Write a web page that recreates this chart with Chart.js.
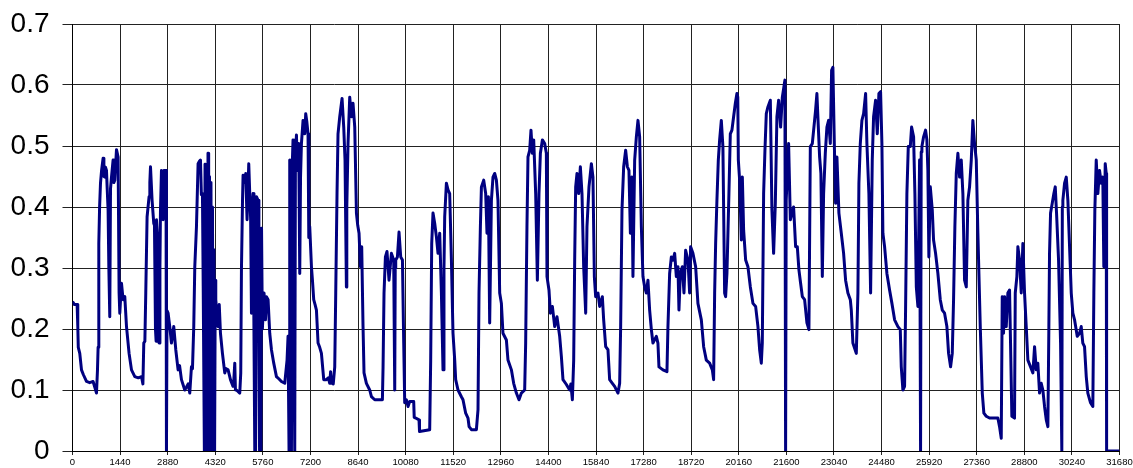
<!DOCTYPE html>
<html>
<head>
<meta charset="utf-8">
<script src="https://cdn.jsdelivr.net/npm/chart.js@4"></script>
<style>
html,body{margin:0;padding:0;background:#fff;}
#wrap{width:1133px;height:468px;}
</style>
</head>
<body>
<div id="wrap"><canvas id="c" width="1133" height="468"></canvas></div>
<script>
// time in minutes
const minutes = [
0,60,140,160,175,220,272,330,423,520,623,700,726,756,775,796,820,847,880,926,950,977,1000,1028,1050,1077,1100,1128,1150,1180,1228,1250,1280,1331,1380,1410,1431,1482,1531,1582,1634,1712,1785,1885,1990,2087,2130,2157,2190,2217,2257,2317,2340,2360,2408,2459,2480,2511,2530,2541,2590,2620,2645,2662,2692,2741,2770,2810,2830,2843,2860,2893,2943,2994,3064,3125,3195,3240,3297,3397,3450,3500,3548,3599,3630,3669,3700,3751,3800,3840,3872,3900,3932,3955,
3990,4010,4030,4055,4075,4100,4120,4145,4165,4190,4210,4235,4255,4280,4300,4320,4335,4405,4440,4477,4537,4607,4650,4708,4780,4858,4880,4910,4930,4961,5061,5091,5112,5143,5161,5200,5242,5282,5333,5363,5390,5415,5440,5463,5490,5515,5540,5566,5615,5640,5660,5700,5720,5745,5796,5838,5868,5918,5968,6020,6089,6171,6250,6322,6422,6492,6522,6552,6573,6600,6625,6650,6673,6700,6725,6745,6776,6806,6846,6876,6900,6927,6976,7028,7057,7090,7127,7150,7178,7230,7260,7299,7340,7381,7430,7480,7532,7602,7683,7740,7783,7810,7835,7860,7890,7935,7965,8004,8034,8086,8156,8207,8246,8288,8300,8337,8388,8440,8488,8540,8591,8630,8670,8712,8751,8791,8821,8893,8993,9045,9145,9296,9377,9397,9426,9468,9516,9577,9650,9719,9735,9750,9765,9780,9831,9880,9931,9983,10022,10052,10103,10152,10203,10324,10340,10385,10485,10500,10808,10838,10869,10908,10960,11011,11060,11111,11162,11211,11240,11262,11313,11363,11413,11465,11513,11565,11594,11665,11767,11816,11897,11967,12000,12070,12221,12270,12300,12342,12373,12442,12502,12542,12584,12623,12675,12723,12775,12826,12874,12926,12977,13025,13128,13177,13280,13349,13431,13510,13582,13682,13712,13751,13782,13833,13873,13915,13955,14015,14066,14115,14157,14218,14287,14338,14357,14417,14460,14520,14590,14659,14741,14792,14841,14944,15043,15080,15125,15165,15195,15225,15265,15316,15367,15416,15467,15528,15567,15628,15700,15748,15790,15830,15900,15951,16032,16072,16133,16202,16253,16335,16404,16505,16556,16586,16626,16677,16737,16789,16837,16880,16928,16958,17010,17061,17110,17161,17212,17261,17312,17363,17412,17463,17515,17563,17666,17714,17745,17865,17987,18017,18068,18120,18168,18220,18271,18320,18350,18392,18453,18502,18552,18622,18673,18703,18773,18855,18924,19027,19097,19178,19278,19360,19399,19430,19460,19499,19541,19581,19632,19680,19732,19762,19802,19862,19904,19953,20004,20056,20104,20130,20147,20186,20237,20268,20307,20368,20437,20510,20589,20670,20740,20791,20842,20872,20912,20952,20993,21042,21115,21163,21214,21266,21314,21366,21426,21478,21526,21556,21577,21595,21617,21668,21720,21768,21819,21880,21931,21980,22031,22083,22152,22222,22283,22325,22385,22434,22485,22524,22567,22606,22645,22688,22727,22778,22827,22878,22930,22969,23008,23051,23090,23130,23190,23262,23332,23392,23462,23535,23565,23613,23716,23765,23795,23837,23886,23937,23998,24037,24097,24149,24199,24239,24300,24351,24400,24451,24491,24521,24572,24642,24723,24794,24875,24975,25047,25077,25126,25177,25207,25247,25289,25350,25389,25450,25489,25532,25580,25631,25661,25680,25701,25752,25812,25852,25882,25912,25955,26015,26054,26115,26185,26257,26318,26387,26457,26508,26569,26620,26659,26699,26741,26790,26841,26892,26941,26992,27044,27092,27143,27195,27243,27294,27346,27395,27467,27528,27576,27648,27748,27999,28050,28102,28132,28171,28202,28253,28302,28353,28383,28423,28504,28526,28575,28605,28656,28707,28756,28807,28858,28908,28989,29059,29110,29161,29209,29261,29312,29361,29412,29464,29513,29543,29563,29594,29645,29694,29736,29775,29836,29897,29935,29950,29966,30018,30069,30118,30169,30220,30269,30320,30401,30471,30522,30570,30622,30674,30722,30804,30873,30904,30934,30976,31025,31076,31127,31175,31206,31248,31278,31290,31680
];
const load = [
0.245,0.24,0.24,0.205,0.17,0.16,0.133,0.125,0.114,0.112,0.114,0.1,0.095,0.133,0.17,0.34,0.40,0.439,0.46,0.48,0.45,0.449,0.465,0.46,0.43,0.395,0.3,0.22,0.43,0.449,0.477,0.44,0.444,0.494,0.482,0.259,0.226,0.275,0.248,0.253,0.204,0.16,0.133,0.122,0.12,0.122,0.11,0.177,0.18,0.259,0.384,0.417,0.44,0.466,0.411,0.373,0.37,0.199,0.18,0.379,0.335,0.177,0.3,0.395,0.46,0.379,0.46,0.46,0.46,0,0.23,0.226,0.204,0.177,0.204,0.166,0.133,0.14,0.117,0.1,0.105,0.11,0.095,0.138,0.135,0.204,0.302,0.368,0.471,0.475,0.477,0.42,0.422,0.27,
0,0.47,0,0.44,0,0.488,0,0.45,0,0.44,0,0.4,0,0.33,0,0.28,0.248,0.204,0.24,0.193,0.16,0.128,0.135,0.133,0.117,0.106,0.115,0.144,0.1,0.1,0.095,0.128,0.297,0.406,0.452,0.44,0.455,0.379,0.471,0.422,0.38,0.226,0.4,0.422,0.2,0,0,0.417,0.411,0.2,0,0,0.365,0.2,0.259,0.215,0.253,0.248,0.193,0.166,0.144,0.122,0.118,0.114,0.111,0.149,0.188,0,0.477,0.2,0,0.47,0.51,0.2,0,0.48,0.518,0.46,0.504,0.291,0.45,0.504,0.542,0.52,0.553,0.54,0.52,0.35,0.368,0.302,0.28,0.248,0.24,0.231,0.177,0.17,0.16,0.117,0.117,0.12,0.111,0.13,0.111,0.12,0.11,0.138,0.259,0.422,0.52,0.548,0.578,0.531,0.477,0.269,0.4,0.504,0.58,0.548,0.57,0.531,0.39,0.37,0.357,0.302,0.335,0.204,0.128,0.111,0.1,0.089,0.084,0.084,0.084,0.138,0.259,0.318,0.327,0.28,0.324,0.313,0.2,0.1,0.3,0.313,0.318,0.359,0.318,0.313,0.177,0.079,0.084,0.073,0.081,0.081,0.055,0.054,0.051,0.032,0.035,0.149,0.34,0.39,0.373,0.351,0.324,0.357,0.259,0.133,0.3,0.384,0.439,0.428,0.422,0.313,0.193,0.149,0.117,0.1,0.089,0.084,0.062,0.054,0.04,0.035,0.035,0.068,0.259,0.368,0.433,0.444,0.422,0.357,0.417,0.21,0.411,0.449,0.455,0.444,0.411,0.259,0.242,0.193,0.182,0.149,0.133,0.111,0.095,0.084,0.095,0.1,0.177,0.368,0.482,0.493,0.526,0.488,0.51,0.422,0.28,0.422,0.488,0.51,0.504,0.488,0.286,0.264,0.226,0.237,0.204,0.22,0.188,0.155,0.117,0.109,0.1,0.11,0.084,0.149,0.313,0.433,0.455,0.422,0.466,0.422,0.302,0.226,0.368,0.433,0.471,0.449,0.286,0.253,0.259,0.237,0.253,0.215,0.171,0.166,0.117,0.111,0.106,0.095,0.111,0.204,0.395,0.466,0.493,0.466,0.46,0.357,0.449,0.286,0.477,0.515,0.542,0.515,0.368,0.286,0.269,0.259,0.28,0.231,0.199,0.177,0.188,0.177,0.138,0.133,0.13,0.204,0.291,0.318,0.313,0.324,0.286,0.302,0.231,0.291,0.302,0.259,0.329,0.313,0.259,0.335,0.324,0.302,0.242,0.215,0.171,0.149,0.144,0.133,0.117,0.259,0.34,0.411,0.477,0.51,0.542,0.499,0.259,0.253,0.291,0.422,0.52,0.526,0.548,0.57,0.586,0.58,0.477,0.444,0.346,0.449,0.362,0.313,0.302,0.269,0.242,0.237,0.204,0.166,0.144,0.177,0.422,0.493,0.553,0.564,0.575,0.395,0.324,0.406,0.548,0.575,0.531,0.58,0.597,0.608,0,0.411,0.411,0.504,0.379,0.39,0.4,0.335,0.335,0.297,0.275,0.253,0.248,0.21,0.199,0.499,0.504,0.531,0.559,0.586,0.531,0.482,0.455,0.286,0.422,0.488,0.531,0.542,0.504,0.624,0.629,0.504,0.406,0.482,0.39,0.357,0.324,0.28,0.259,0.248,0.231,0.177,0.16,0.259,0.439,0.504,0.542,0.553,0.586,0.504,0.422,0.259,0.477,0.548,0.575,0.52,0.586,0.589,0.504,0.357,0.335,0.291,0.264,0.242,0.215,0.204,0.199,0.138,0.1,0.106,0.231,0.422,0.499,0.499,0.531,0.515,0.422,0.269,0.237,0.477,0,0.49,0.499,0.515,0.526,0.51,0.46,0.318,0.433,0.395,0.346,0.324,0.291,0.248,0.231,0.226,0.204,0.16,0.138,0.16,0.248,0.368,0.455,0.488,0.449,0.477,0.422,0.28,0.269,0.411,0.433,0.477,0.542,0.504,0.477,0.357,0.204,0.095,0.062,0.057,0.054,0.054,0.04,0.021,0.253,0.193,0.253,0.204,0.259,0.264,0.177,0.057,0.054,0.259,0.286,0.335,0.313,0.259,0.34,0.259,0.204,0.149,0.138,0.128,0.171,0.133,0.144,0.095,0.111,0.1,0.073,0.051,0.04,0.204,0.324,0.39,0.406,0.422,0.433,0.39,0.313,0.177,0,0.4,0.411,0.439,0.449,0.411,0.335,0.259,0.226,0.215,0.188,0.193,0.204,0.177,0.171,0.122,0.095,0.079,0.073,0.259,0.395,0.477,0.422,0.46,0.439,0.449,0.302,0.471,0.455,0,0
];
const xTickStep = 1440;
const xMax = 31680;
const yTickLabels = ['0','0.1','0.2','0.3','0.4','0.5','0.6','0.7'];

const points = minutes.map((m, i) => ({x: m, y: load[i]}));
const FONT = "'Liberation Sans', Arial, sans-serif";

new Chart(document.getElementById('c'), {
  type: 'line',
  data: {
    datasets: [{
      data: points,
      borderColor: '#000080',
      borderWidth: 3,
      pointRadius: 0,
      tension: 0,
      fill: false,
      borderJoinStyle: 'round'
    }]
  },
  options: {
    responsive: false,
    animation: false,
    parsing: false,
    layout: {padding: {top: 24, right: 13.5, left: 0, bottom: 0}},
    plugins: {legend: {display: false}, tooltip: {enabled: false}},
    scales: {
      x: {
        type: 'linear',
        min: 0,
        max: xMax,
        afterFit: (s) => { s.height = 17; s.paddingLeft = 0; s.paddingRight = 0; },
        ticks: {
          stepSize: xTickStep,
          autoSkip: false,
          maxRotation: 0,
          padding: 2,
          color: '#000',
          font: {family: FONT, size: 9.5},
          callback: (v) => String(v)
        },
        grid: {color: '#222', lineWidth: 1, tickLength: 4},
        border: {color: '#000', width: 1}
      },
      y: {
        min: 0,
        max: 0.7,
        afterFit: (s) => { s.width = 72.5; s.paddingTop = 0; s.paddingBottom = 0; },
        ticks: {
          stepSize: 0.1,
          padding: 13,
          color: '#000',
          font: {family: FONT, size: 28},
          callback: (v) => yTickLabels[Math.round(v * 10)]
        },
        grid: {color: '#222', lineWidth: 1, tickLength: 10},
        border: {color: '#000', width: 1}
      }
    }
  }
});
</script>
</body>
</html>
